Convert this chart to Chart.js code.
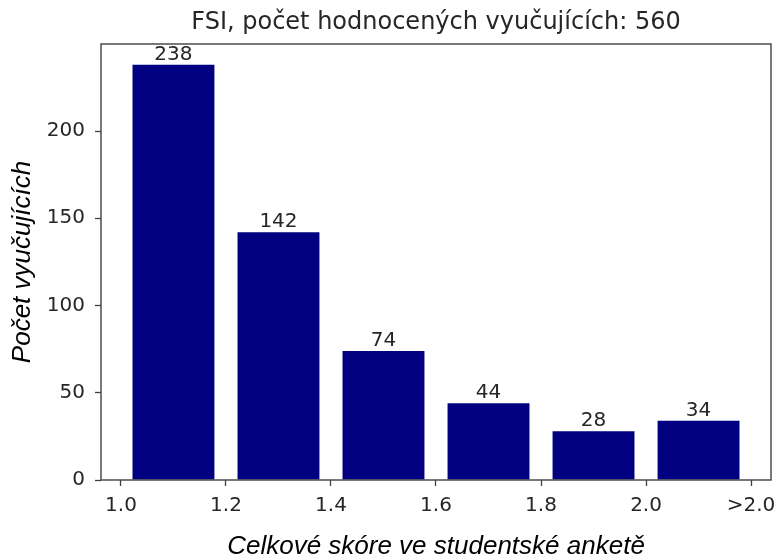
<!DOCTYPE html>
<html>
<head>
<meta charset="utf-8">
<title>FSI</title>
<script src="https://cdn.jsdelivr.net/npm/chart.js@4"></script>
<style>
    body { margin: 0; background: #ffffff; }
    canvas { display: block; }
</style>
</head>
<body>
<canvas id="myChart" width="776" height="560"></canvas>
<script>
// data
const tickLabels = ['1.0', '1.2', '1.4', '1.6', '1.8', '2.0', '>2.0'];
const counts = [238, 142, 74, 44, 28, 34];
const yTicks = [0, 50, 100, 150, 200];

const barColor = '#000080';
const textColor = '#262626';

// frame around the plot area (matplotlib spines)
const spines = {
    id: 'spines',
    afterDatasetsDraw(chart) {
        let a = chart.chartArea;
        let ctx = chart.ctx;
        ctx.save();
        ctx.strokeStyle = '#404040';
        ctx.lineWidth = 1.4;
        ctx.strokeRect(a.left, a.top, a.right - a.left, a.bottom - a.top);
        ctx.restore();
    }
};

// numbers above the bars
const barValues = {
    id: 'barValues',
    afterDatasetsDraw(chart) {
        let ctx = chart.ctx;
        let meta = chart.getDatasetMeta(0);
        ctx.save();
        ctx.fillStyle = textColor;
        ctx.font = '20px "DejaVu Sans"';
        ctx.textAlign = 'center';
        ctx.textBaseline = 'alphabetic';
        meta.data.forEach(function (bar, i) {
            ctx.fillText(String(counts[i]), bar.x, bar.y - 5);
        });
        ctx.restore();
    }
};

function graficar() {
    let ctx = document.getElementById('myChart');
    const data = {
        datasets: [{
            data: counts.map(function (v, i) { return { x: i + 0.5, y: v }; }),
            backgroundColor: barColor,
            borderWidth: 0,
            categoryPercentage: 1.0,
            barPercentage: 0.78
        }]
    };
    const config = {
        type: 'bar',
        data: data,
        options: {
            responsive: false,
            animation: false,
            devicePixelRatio: 1,
            layout: { padding: { top: 0, right: 5, bottom: 0, left: 0 } },
            plugins: {
                legend: { display: false },
                tooltip: { enabled: false },
                title: {
                    display: true,
                    fullSize: false,
                    text: 'FSI, počet hodnocených vyučujících: 560',
                    color: textColor,
                    font: { family: '"DejaVu Sans"', size: 24, weight: 'normal', lineHeight: 1.2 },
                    padding: { top: 8, bottom: 7.2 }
                }
            },
            scales: {
                x: {
                    type: 'linear',
                    min: -0.19,
                    max: 6.19,
                    offset: false,
                    afterBuildTicks: function (scale) {
                        scale.ticks = tickLabels.map(function (t, i) { return { value: i }; });
                    },
                    afterFit: function (scale) {
                        scale.height = 80;
                        scale.paddingLeft = 0;
                        scale.paddingRight = 0;
                    },
                    grid: {
                        offset: false,
                        drawOnChartArea: false,
                        drawTicks: true,
                        tickLength: 6,
                        tickColor: '#404040',
                        tickWidth: 1.3
                    },
                    border: { display: false },
                    ticks: {
                        autoSkip: false,
                        maxRotation: 0,
                        padding: 8,
                        color: textColor,
                        font: { family: '"DejaVu Sans"', size: 20 },
                        callback: function (value) { return tickLabels[value]; }
                    },
                    title: {
                        display: true,
                        text: 'Celkové skóre ve studentské anketě',
                        color: '#000000',
                        font: { family: '"Liberation Sans"', size: 26, style: 'italic', lineHeight: 1 },
                        padding: { top: 0, bottom: 0 }
                    }
                },
                y: {
                    min: 0,
                    max: 249.9,
                    afterBuildTicks: function (scale) {
                        scale.ticks = yTicks.map(function (v) { return { value: v }; });
                    },
                    afterFit: function (scale) { scale.width = 101; },
                    grid: {
                        drawOnChartArea: false,
                        drawTicks: true,
                        tickLength: 6,
                        tickColor: '#404040',
                        tickWidth: 1.3
                    },
                    border: { display: false },
                    ticks: {
                        padding: 10,
                        color: textColor,
                        font: { family: '"DejaVu Sans"', size: 20 }
                    },
                    title: {
                        display: true,
                        text: 'Počet vyučujících',
                        color: '#000000',
                        font: { family: '"Liberation Sans"', size: 26, style: 'italic', lineHeight: 1 },
                        padding: { top: 10, bottom: 0 }
                    }
                }
            }
        },
        plugins: [spines, barValues]
    };
    new Chart(ctx, config);
}

graficar();
</script>
</body>
</html>
